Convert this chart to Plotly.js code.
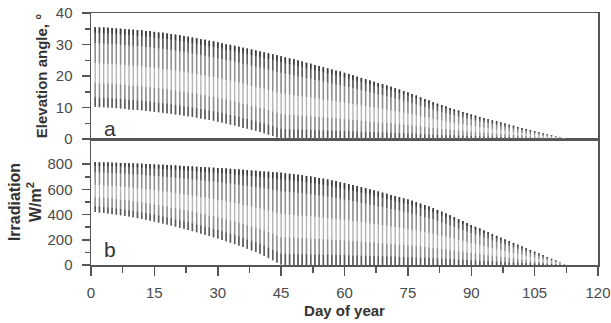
<!DOCTYPE html>
<html>
<head>
<meta charset="utf-8">
<script src="https://cdn.plot.ly/plotly-3.0.1.min.js"></script>
<style>html,body{margin:0;padding:0;background:#fff;}#chart{width:611px;height:323px;}</style>
</head>
<body>
<div id="chart"></div>
<script>
// Day numbers (one daily cycle per day)
const days = [];
for (let d = 1; d <= 112; d++) days.push(d);

// Daily maximum solar elevation angle, degrees
const elevMax = [
35.5,35.4,35.4,35.3,35.2, 35.1,35.0,34.9,34.8,34.7, 34.6,34.5,34.3,34.2,34.0,
33.8,33.7,33.5,33.3,33.1, 32.9,32.7,32.5,32.2,32.0, 31.7,31.5,31.2,31.0,30.7,
30.4,30.1,29.9,29.6,29.3, 29.0,28.7,28.4,28.1,27.8, 27.5,27.2,26.9,26.6,26.3,
25.9,25.6,25.3,24.9,24.6, 24.2,23.9,23.5,23.2,22.8, 22.4,22.1,21.7,21.4,21.0,
20.6,20.2,19.8,19.4,19.0, 18.6,18.2,17.8,17.4,17.0, 16.6,16.1,15.7,15.2,14.8,
14.3,13.8,13.2,12.7,12.2, 11.7,11.2,10.8,10.3,9.8, 9.4,9.0,8.6,8.2,7.8,
7.4,7.0,6.6,6.3,5.9, 5.6,5.2,4.9,4.5,4.2, 3.8,3.5,3.2,2.8,2.5,
2.2,1.8,1.5,1.2,0.9, 0.6,0.3
];
// Daily minimum solar elevation angle, degrees (clipped at 0)
const elevMin = [
10.2,10.1,10.1,10.0,9.9, 9.8,9.7,9.6,9.4,9.3, 9.2,9.1,8.9,8.8,8.6,
8.5,8.3,8.2,8.0,7.8, 7.6,7.4,7.2,7.0,6.8, 6.5,6.3,6.0,5.8,5.5,
5.2,4.9,4.6,4.3,4.0, 3.6,3.3,2.9,2.6,2.2, 1.8,1.4,1.0,0.5,0.1,
0,0,0,0,0, 0,0,0,0,0, 0,0,0,0,0,
0,0,0,0,0, 0,0,0,0,0, 0,0,0,0,0,
0,0,0,0,0, 0,0,0,0,0, 0,0,0,0,0,
0,0,0,0,0, 0,0,0,0,0, 0,0,0,0,0,
0,0,0,0,0, 0,0
];
// Daily maximum irradiation, W/m2
const irrMax = [
815,814,814,813,812, 811,810,809,808,806, 805,803,802,800,798,
796,795,793,792,790, 788,786,784,782,780, 778,776,774,772,770,
768,765,763,760,758, 755,753,750,748,745, 742,740,737,735,732,
728,724,720,716,712, 707,702,696,691,685, 678,671,664,657,650,
642,634,626,618,610, 601,592,583,574,565, 556,547,538,529,520,
509,498,487,476,465, 451,437,423,409,395, 380,364,349,333,318,
303,289,274,260,245, 231,217,203,189,175, 161,147,133,119,105,
91,77,63,49,35, 20,6
];
// Daily minimum irradiation, W/m2
const irrMin = [
421,417,413,409,405, 400,395,389,384,378, 372,365,359,352,345,
337,329,321,313,305, 296,287,278,269,260, 250,240,230,220,210,
199,188,177,166,155, 142,129,116,103,90, 73,55,38,20,3,
0,0,0,0,0, 0,0,0,0,0, 0,0,0,0,0,
0,0,0,0,0, 0,0,0,0,0, 0,0,0,0,0,
0,0,0,0,0, 0,0,0,0,0, 0,0,0,0,0,
0,0,0,0,0, 0,0,0,0,0, 0,0,0,0,0,
0,0,0,0,0, 0,0
];

const xTicks = [0,15,30,45,60,75,90,105,120];
const xMinor = [7.5,22.5,37.5,52.5,67.5,82.5,97.5,112.5];
const elevTicks = [0,10,20,30,40];
const elevMinor = [5,15,25,35];
const irrTicks = [0,200,400,600,800];
const irrMinor = [100,300,500,700];

function segs(lo, hi, fLo, fHi) {
  const x = [], y = [];
  days.forEach((d, i) => {
    const a = lo[i], b = hi[i], r = b - a;
    x.push(d, d, null);
    y.push(a + fLo * r, a + fHi * r, null);
  });
  return {x, y};
}

const lw = 1.4;
const traces = [];
function addPanel(lo, hi, xa, ya) {
  // shading layers: light overall, darker near the daily extremes
  const parts = [
    [0, 1, '#b4b4b4'],
    [0.55, 1, '#8f8f8f'],
    [0.8, 1, '#5e5e5e'],
    [0.93, 1, '#3a3a3a'],
    [0, 0.3, '#8f8f8f'],
    [0, 0.12, '#5a5a5a']
  ];
  parts.forEach(p => {
    const s = segs(lo, hi, p[0], p[1]);
    traces.push({x: s.x, y: s.y, xaxis: xa, yaxis: ya, type: 'scatter', mode: 'lines',
      line: {color: p[2], width: lw}, hoverinfo: 'skip', showlegend: false});
  });
}
addPanel(elevMin, elevMax, 'x2', 'y2');
addPanel(irrMin, irrMax, 'x', 'y');

const axLine = '#555555';
const fam = 'Liberation Sans, Arial, sans-serif';
const tickFont = {family: fam, size: 15, color: '#4a4a4a'};
const titleFont = {family: fam, size: 15, color: '#333'};

const layout = {
  width: 611, height: 323,
  margin: {l: 91, r: 13, t: 13, b: 58},
  paper_bgcolor: '#fff', plot_bgcolor: '#fff',
  showlegend: false,
  xaxis: {
    domain: [0, 1], anchor: 'y', range: [0, 120],
    tickvals: xTicks, ticktext: xTicks.map(String),
    ticks: 'outside', ticklen: 9, tickwidth: 1.5, tickcolor: axLine,
    minor: {tickvals: xMinor, ticks: 'outside', ticklen: 6, tickwidth: 1.5, tickcolor: axLine},
    showline: true, mirror: true, linecolor: axLine, linewidth: 1.5,
    showgrid: false, zeroline: false, tickfont: tickFont, ticklabelstandoff: 4,
    title: {text: '<b>Day of year</b>', font: titleFont, standoff: 6}
  },
  yaxis: {
    domain: [0, 0.5], anchor: 'x', range: [0, 1000],
    tickvals: irrTicks, ticktext: irrTicks.map(String),
    ticks: 'outside', ticklen: 8, tickwidth: 1.5, tickcolor: axLine,
    minor: {tickvals: irrMinor, ticks: 'outside', ticklen: 5, tickwidth: 1.5, tickcolor: axLine},
    showline: true, mirror: true, linecolor: axLine, linewidth: 1.5,
    showgrid: false, zeroline: false, tickfont: tickFont, ticklabelstandoff: 6,
    title: {text: '<b>Irradiation<br>W/m<sup>2</sup></b>', font: {family: fam, size: 16, color: '#333'}, standoff: 2}
  },
  xaxis2: {
    domain: [0, 1], anchor: 'y2', range: [0, 120],
    showticklabels: false, ticks: '',
    showline: true, mirror: true, linecolor: axLine, linewidth: 1.5,
    showgrid: false, zeroline: false
  },
  yaxis2: {
    domain: [0.5, 1], anchor: 'x2', range: [0, 40],
    tickvals: elevTicks, ticktext: elevTicks.map(String),
    ticks: 'outside', ticklen: 8, tickwidth: 1.5, tickcolor: axLine,
    minor: {tickvals: elevMinor, ticks: 'outside', ticklen: 5, tickwidth: 1.5, tickcolor: axLine},
    showline: true, mirror: true, linecolor: axLine, linewidth: 1.5,
    showgrid: false, zeroline: false, tickfont: tickFont, ticklabelstandoff: 6,
    title: {text: '<b>Elevation angle, °</b>', font: titleFont, standoff: 4}
  },
  annotations: [
    {text: 'a', xref: 'x2', yref: 'y2', x: 2.6, y: 3.4, xanchor: 'left', yanchor: 'middle',
     showarrow: false, font: {family: fam, size: 21, color: '#333'}},
    {text: 'b', xref: 'x', yref: 'y', x: 2.6, y: 126, xanchor: 'left', yanchor: 'middle',
     showarrow: false, font: {family: fam, size: 21, color: '#333'}}
  ]
};

Plotly.newPlot('chart', traces, layout, {staticPlot: true, displayModeBar: false});
</script>
</body>
</html>
